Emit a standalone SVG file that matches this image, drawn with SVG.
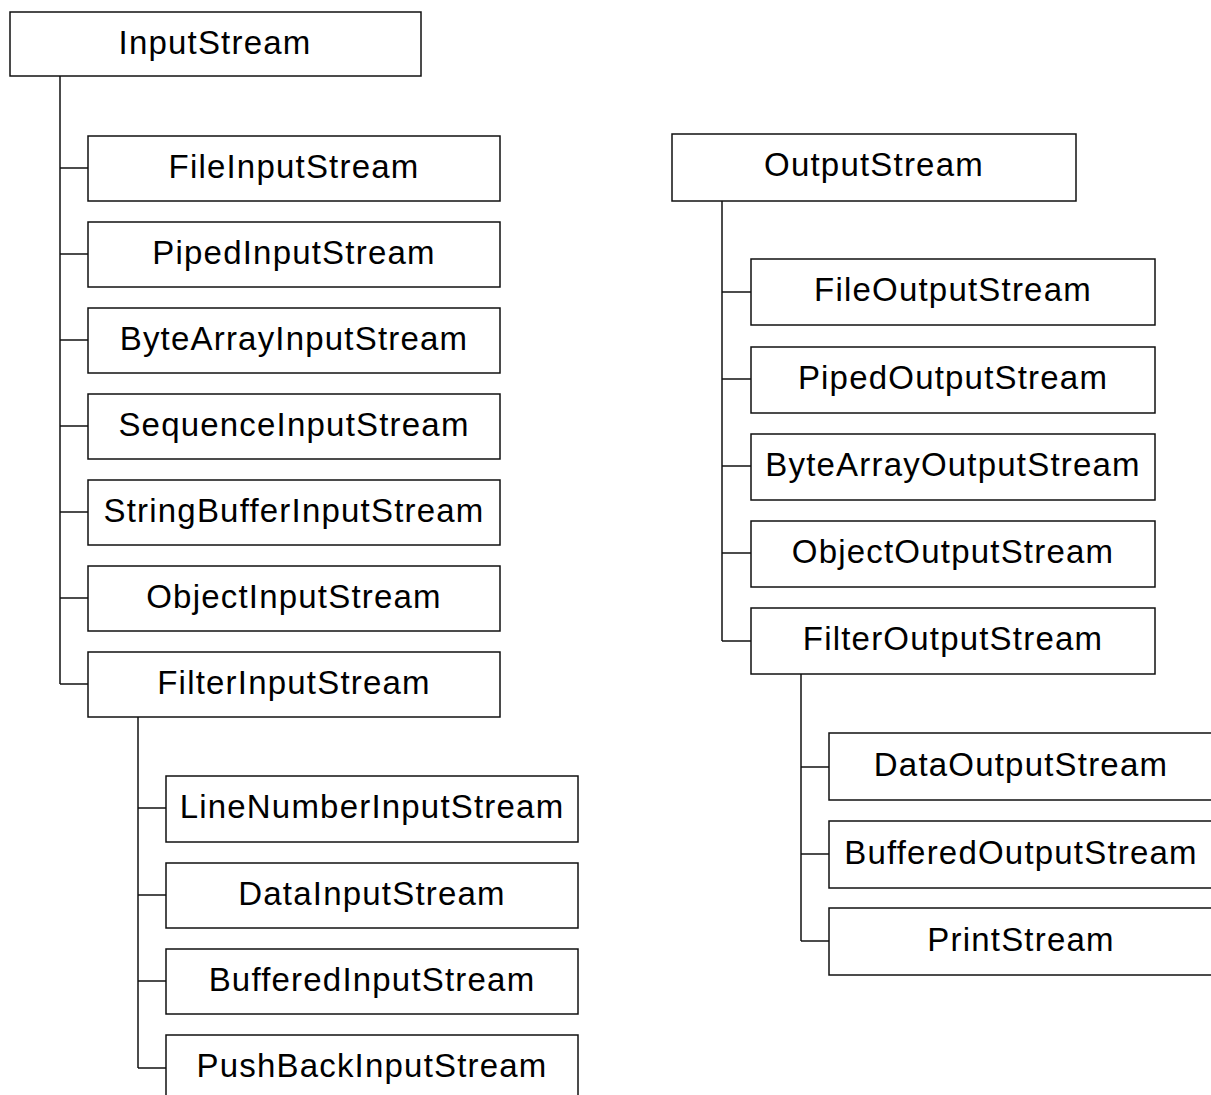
<svg xmlns="http://www.w3.org/2000/svg" width="1211" height="1095" viewBox="0 0 1211 1095">
<style>
rect.n{fill:#fff;stroke:#111;stroke-width:1.5}
text{font-family:"Liberation Sans",Arial,sans-serif;font-size:33px;letter-spacing:1.2px;text-anchor:middle;fill:#000}
.c line,.c path{stroke:#111;stroke-width:1.5;fill:none}
</style>
<rect width="1211" height="1095" fill="#fff"/>
<g class="c" id="connectors">
<path d="M60 76V684"/>
<line x1="60" y1="168" x2="88" y2="168"/>
<line x1="60" y1="254" x2="88" y2="254"/>
<line x1="60" y1="340" x2="88" y2="340"/>
<line x1="60" y1="426" x2="88" y2="426"/>
<line x1="60" y1="512" x2="88" y2="512"/>
<line x1="60" y1="598" x2="88" y2="598"/>
<line x1="60" y1="684" x2="88" y2="684"/>
<path d="M138 717V1068"/>
<line x1="138" y1="808" x2="166" y2="808"/>
<line x1="138" y1="895" x2="166" y2="895"/>
<line x1="138" y1="981" x2="166" y2="981"/>
<line x1="138" y1="1068" x2="166" y2="1068"/>
<path d="M722 201V641"/>
<line x1="722" y1="292" x2="751" y2="292"/>
<line x1="722" y1="379" x2="751" y2="379"/>
<line x1="722" y1="466" x2="751" y2="466"/>
<line x1="722" y1="553" x2="751" y2="553"/>
<line x1="722" y1="641" x2="751" y2="641"/>
<path d="M801 674V941"/>
<line x1="801" y1="767" x2="829" y2="767"/>
<line x1="801" y1="854" x2="829" y2="854"/>
<line x1="801" y1="941" x2="829" y2="941"/>
</g>
<g id="InputStream"><rect class="n" x="10" y="12" width="411" height="64"/><text x="215" y="54">InputStream</text></g>
<g id="FileInputStream"><rect class="n" x="88" y="136" width="412" height="65"/><text x="294" y="178">FileInputStream</text></g>
<g id="PipedInputStream"><rect class="n" x="88" y="222" width="412" height="65"/><text x="294" y="264">PipedInputStream</text></g>
<g id="ByteArrayInputStream"><rect class="n" x="88" y="308" width="412" height="65"/><text x="294" y="350">ByteArrayInputStream</text></g>
<g id="SequenceInputStream"><rect class="n" x="88" y="394" width="412" height="65"/><text x="294" y="436">SequenceInputStream</text></g>
<g id="StringBufferInputStream"><rect class="n" x="88" y="480" width="412" height="65"/><text x="294" y="522">StringBufferInputStream</text></g>
<g id="ObjectInputStream"><rect class="n" x="88" y="566" width="412" height="65"/><text x="294" y="608">ObjectInputStream</text></g>
<g id="FilterInputStream"><rect class="n" x="88" y="652" width="412" height="65"/><text x="294" y="694">FilterInputStream</text></g>
<g id="LineNumberInputStream"><rect class="n" x="166" y="776" width="412" height="66"/><text x="372" y="818">LineNumberInputStream</text></g>
<g id="DataInputStream"><rect class="n" x="166" y="863" width="412" height="65"/><text x="372" y="905">DataInputStream</text></g>
<g id="BufferedInputStream"><rect class="n" x="166" y="949" width="412" height="65"/><text x="372" y="991">BufferedInputStream</text></g>
<g id="PushBackInputStream"><rect class="n" x="166" y="1035" width="412" height="80"/><text x="372" y="1077">PushBackInputStream</text></g>
<g id="OutputStream"><rect class="n" x="672" y="134" width="404" height="67"/><text x="874" y="176">OutputStream</text></g>
<g id="FileOutputStream"><rect class="n" x="751" y="259" width="404" height="66"/><text x="953" y="301">FileOutputStream</text></g>
<g id="PipedOutputStream"><rect class="n" x="751" y="347" width="404" height="66"/><text x="953" y="389">PipedOutputStream</text></g>
<g id="ByteArrayOutputStream"><rect class="n" x="751" y="434" width="404" height="66"/><text x="953" y="476">ByteArrayOutputStream</text></g>
<g id="ObjectOutputStream"><rect class="n" x="751" y="521" width="404" height="66"/><text x="953" y="563">ObjectOutputStream</text></g>
<g id="FilterOutputStream"><rect class="n" x="751" y="608" width="404" height="66"/><text x="953" y="650">FilterOutputStream</text></g>
<g id="DataOutputStream"><rect class="n" x="829" y="733" width="400" height="67"/><text x="1021" y="776">DataOutputStream</text></g>
<g id="BufferedOutputStream"><rect class="n" x="829" y="821" width="400" height="67"/><text x="1021" y="864">BufferedOutputStream</text></g>
<g id="PrintStream"><rect class="n" x="829" y="908" width="400" height="67"/><text x="1021" y="951">PrintStream</text></g>
</svg>
